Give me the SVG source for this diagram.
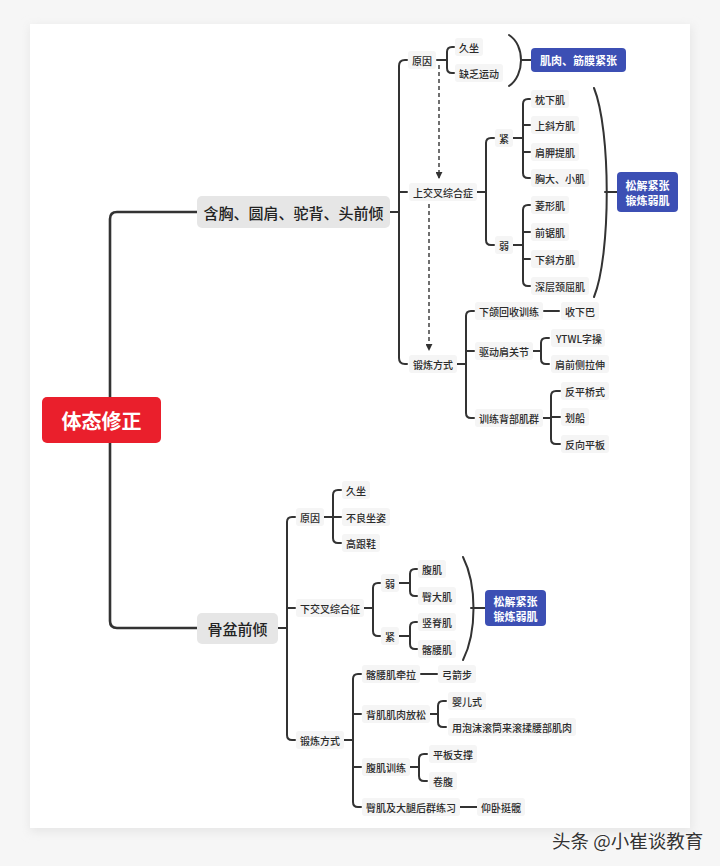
<svg xmlns="http://www.w3.org/2000/svg" width="720" height="866" viewBox="0 0 720 866">
<style>
text{font-family:"Noto Sans CJK SC","Noto Sans",sans-serif;dominant-baseline:central;}
.t{font-size:10px;fill:#2a2a2a;font-weight:500;}
.bg{fill:#f5f5f5;}
.c{fill:none;stroke:#333;stroke-width:2;stroke-linecap:round;stroke-linejoin:round;}
.trunk{fill:none;stroke:#333;stroke-width:2.6;}
.dash{fill:none;stroke:#333;stroke-width:1.4;stroke-dasharray:4 3;}
.blue{fill:#3c4fb4;}
.bt{font-size:11px;fill:#fff;font-weight:bold;text-anchor:middle;}
</style>
<defs>
<marker id="arr" viewBox="0 0 8 8" refX="7" refY="4" markerWidth="7" markerHeight="7" orient="auto" markerUnits="userSpaceOnUse">
<path d="M0,0 L8,4 L0,8 z" fill="#333"/>
</marker>
<filter id="sh" x="-5%" y="-5%" width="110%" height="110%">
<feGaussianBlur stdDeviation="5"/>
</filter>
</defs>
<rect width="720" height="866" fill="#f6f6f6"/>
<rect x="30" y="26" width="662" height="806" fill="#e6e6e6" filter="url(#sh)"/>
<rect x="30" y="24" width="660" height="804" fill="#fff"/>

<g id="connectors">
<path class="trunk" d="M197 212 H117 Q110 212 110 219 V621 Q110 628 117 628 H197"/>
<path class="c" d="M390 212 H399 M407 60 H405 Q399 60 399 66 V358 Q399 364 405 364 H407 M399 192 H407"/>
<path class="c" d="M437 60 H447 M454 47 H452 Q447 47 447 52 V68 Q447 73 452 73 H454"/>
<path class="c" d="M509 35 C525 45 525 75 509 86 M521 60 H531"/>
<path class="dash" d="M439 65 V178" marker-end="url(#arr)"/>
<path class="c" d="M471 192 H486 M494 138 H491 Q486 138 486 143 V240 Q486 245 491 245 H494"/>
<path class="c" d="M509 138 H523 M530 99 H528 Q523 99 523 104 V173 Q523 178 528 178 H530 M523 125 H530 M523 152 H530"/>
<path class="c" d="M509 245 H523 M530 205 H528 Q523 205 523 210 V281 Q523 286 528 286 H530 M523 232 H530 M523 259 H530"/>
<path class="c" d="M594 88 C611 130 611 255 594 297 M605 192 H617"/>
<path class="dash" d="M429 204 V350" marker-end="url(#arr)"/>
<path class="c" d="M453 364 H466 M474 311 H471 Q466 311 466 316 V413 Q466 418 471 418 H474 M466 351 H474"/>
<path class="c" d="M544 311 H559"/>
<path class="c" d="M529 351 H541 M549 338 H546 Q541 338 541 343 V359 Q541 364 546 364 H549"/>
<path class="c" d="M541 418 H551 M560 391 H556 Q551 391 551 396 V439 Q551 444 556 444 H560 M551 417 H560"/>
<path class="c" d="M278 628 H287 M295 517 H292 Q287 517 287 522 V735 Q287 740 292 740 H295 M287 608 H295"/>
<path class="c" d="M324 517 H333 M341 490 H338 Q333 490 333 495 V538 Q333 543 338 543 H341 M333 517 H341"/>
<path class="c" d="M362 608 H373 M380 583 H378 Q373 583 373 588 V631 Q373 636 378 636 H380"/>
<path class="c" d="M395 583 H410 M417 569 H415 Q410 569 410 574 V591 Q410 596 415 596 H417"/>
<path class="c" d="M395 636 H410 M417 622 H415 Q410 622 410 627 V644 Q410 649 415 649 H417"/>
<path class="c" d="M463 557 C477 585 477 632 463 660 M471 608 H485"/>
<path class="c" d="M340 740 H353 M361 674 H358 Q353 674 353 679 V802 Q353 807 358 807 H361 M353 714 H361 M353 767 H361"/>
<path class="c" d="M421 674 H437"/>
<path class="c" d="M428 714 H438 M446 701 H443 Q438 701 438 706 V722 Q438 727 443 727 H446"/>
<path class="c" d="M408 767 H419 M427 754 H424 Q419 754 419 759 V776 Q419 781 424 781 H427"/>
<path class="c" d="M460 807 H477"/>
</g>

<g id="root"><rect x="42" y="397" width="119" height="46" rx="5" fill="#ea1f2c"/><text x="101.5" y="420" font-size="20" font-weight="bold" fill="#fff" text-anchor="middle">体态修正</text></g>
<g id="n-upper"><rect x="197" y="196" width="193" height="32" rx="5" fill="#e6e6e6"/><text x="293.5" y="212" font-size="15" font-weight="500" fill="#222" text-anchor="middle">含胸、圆肩、驼背、头前倾</text></g>
<g id="n-pelvis"><rect x="197" y="613" width="81" height="31" rx="5" fill="#e6e6e6"/><text x="237.5" y="628.5" font-size="15" font-weight="500" fill="#222" text-anchor="middle">骨盆前倾</text></g>

<g id="u-cause"><rect class="bg" x="408" y="51" width="28" height="18" rx="3"/><text class="t" x="412" y="60">原因</text></g>
<g id="u-c1"><rect class="bg" x="455" y="38" width="28" height="18" rx="3"/><text class="t" x="459" y="47">久坐</text></g>
<g id="u-c2"><rect class="bg" x="455" y="64" width="48" height="18" rx="3"/><text class="t" x="459" y="73">缺乏运动</text></g>
<g id="u-blue1"><rect class="blue" x="531" y="48" width="95" height="24" rx="4"/><text class="bt" x="578.5" y="60">肌肉、筋膜紧张</text></g>
<g id="u-syn"><rect class="bg" x="409" y="183" width="68" height="18" rx="3"/><text class="t" x="413" y="192">上交叉综合症</text></g>
<g id="u-tight"><rect class="bg" x="495" y="129" width="18" height="18" rx="3"/><text class="t" x="499" y="138">紧</text></g>
<g id="u-t1"><rect class="bg" x="531" y="90" width="38" height="18" rx="3"/><text class="t" x="535" y="99">枕下肌</text></g>
<g id="u-t2"><rect class="bg" x="531" y="116" width="48" height="18" rx="3"/><text class="t" x="535" y="125">上斜方肌</text></g>
<g id="u-t3"><rect class="bg" x="531" y="143" width="48" height="18" rx="3"/><text class="t" x="535" y="152">肩胛提肌</text></g>
<g id="u-t4"><rect class="bg" x="531" y="169" width="58" height="18" rx="3"/><text class="t" x="535" y="178">胸大、小肌</text></g>
<g id="u-weak"><rect class="bg" x="495" y="236" width="18" height="18" rx="3"/><text class="t" x="499" y="245">弱</text></g>
<g id="u-w1"><rect class="bg" x="531" y="196" width="38" height="18" rx="3"/><text class="t" x="535" y="205">菱形肌</text></g>
<g id="u-w2"><rect class="bg" x="531" y="223" width="38" height="18" rx="3"/><text class="t" x="535" y="232">前锯肌</text></g>
<g id="u-w3"><rect class="bg" x="531" y="250" width="48" height="18" rx="3"/><text class="t" x="535" y="259">下斜方肌</text></g>
<g id="u-w4"><rect class="bg" x="531" y="277" width="58" height="18" rx="3"/><text class="t" x="535" y="286">深层颈屈肌</text></g>
<g id="u-blue2"><rect class="blue" x="617" y="172" width="61" height="40" rx="4"/><text class="bt" x="647.5" y="185">松解紧张</text><text class="bt" x="647.5" y="200">锻炼弱肌</text></g>
<g id="u-ex"><rect class="bg" x="409" y="355" width="48" height="18" rx="3"/><text class="t" x="413" y="364">锻炼方式</text></g>
<g id="u-e1"><rect class="bg" x="475" y="302" width="68" height="18" rx="3"/><text class="t" x="479" y="311">下颌回收训练</text></g>
<g id="u-e1a"><rect class="bg" x="561" y="302" width="38" height="18" rx="3"/><text class="t" x="565" y="311">收下巴</text></g>
<g id="u-e2"><rect class="bg" x="475" y="342" width="58" height="18" rx="3"/><text class="t" x="479" y="351">驱动肩关节</text></g>
<g id="u-e2a"><rect class="bg" x="551" y="329" width="54" height="18" rx="3"/><text class="t" x="556" y="338">YTWL字操</text></g>
<g id="u-e2b"><rect class="bg" x="551" y="355" width="58" height="18" rx="3"/><text class="t" x="555" y="364">肩前侧拉伸</text></g>
<g id="u-e3"><rect class="bg" x="475" y="409" width="68" height="18" rx="3"/><text class="t" x="479" y="418">训练背部肌群</text></g>
<g id="u-e3a"><rect class="bg" x="561" y="382" width="48" height="18" rx="3"/><text class="t" x="565" y="391">反平桥式</text></g>
<g id="u-e3b"><rect class="bg" x="561" y="408" width="28" height="18" rx="3"/><text class="t" x="565" y="417">划船</text></g>
<g id="u-e3c"><rect class="bg" x="561" y="435" width="48" height="18" rx="3"/><text class="t" x="565" y="444">反向平板</text></g>

<g id="b-cause"><rect class="bg" x="296" y="508" width="28" height="18" rx="3"/><text class="t" x="300" y="517">原因</text></g>
<g id="b-c1"><rect class="bg" x="342" y="481" width="28" height="18" rx="3"/><text class="t" x="346" y="490">久坐</text></g>
<g id="b-c2"><rect class="bg" x="342" y="508" width="48" height="18" rx="3"/><text class="t" x="346" y="517">不良坐姿</text></g>
<g id="b-c3"><rect class="bg" x="342" y="534" width="38" height="18" rx="3"/><text class="t" x="346" y="543">高跟鞋</text></g>
<g id="b-syn"><rect class="bg" x="296" y="599" width="68" height="18" rx="3"/><text class="t" x="300" y="608">下交叉综合征</text></g>
<g id="b-weak"><rect class="bg" x="381" y="574" width="18" height="18" rx="3"/><text class="t" x="385" y="583">弱</text></g>
<g id="b-w1"><rect class="bg" x="418" y="560" width="28" height="18" rx="3"/><text class="t" x="422" y="569">腹肌</text></g>
<g id="b-w2"><rect class="bg" x="418" y="587" width="38" height="18" rx="3"/><text class="t" x="422" y="596">臀大肌</text></g>
<g id="b-tight"><rect class="bg" x="381" y="627" width="18" height="18" rx="3"/><text class="t" x="385" y="636">紧</text></g>
<g id="b-t1"><rect class="bg" x="418" y="613" width="38" height="18" rx="3"/><text class="t" x="422" y="622">竖脊肌</text></g>
<g id="b-t2"><rect class="bg" x="418" y="640" width="38" height="18" rx="3"/><text class="t" x="422" y="649">髂腰肌</text></g>
<g id="b-blue"><rect class="blue" x="485" y="590" width="61" height="36" rx="4"/><text class="bt" x="515.5" y="601">松解紧张</text><text class="bt" x="515.5" y="616">锻炼弱肌</text></g>
<g id="b-ex"><rect class="bg" x="296" y="731" width="48" height="18" rx="3"/><text class="t" x="300" y="740">锻炼方式</text></g>
<g id="b-e1"><rect class="bg" x="362" y="665" width="58" height="18" rx="3"/><text class="t" x="366" y="674">髂腰肌牵拉</text></g>
<g id="b-e1a"><rect class="bg" x="438" y="665" width="38" height="18" rx="3"/><text class="t" x="442" y="674">弓箭步</text></g>
<g id="b-e2"><rect class="bg" x="362" y="705" width="68" height="18" rx="3"/><text class="t" x="366" y="714">背肌肌肉放松</text></g>
<g id="b-e2a"><rect class="bg" x="448" y="692" width="38" height="18" rx="3"/><text class="t" x="452" y="701">婴儿式</text></g>
<g id="b-e2b"><rect class="bg" x="448" y="718" width="128" height="18" rx="3"/><text class="t" x="452" y="727">用泡沫滚筒来滚揉腰部肌肉</text></g>
<g id="b-e3"><rect class="bg" x="362" y="758" width="48" height="18" rx="3"/><text class="t" x="366" y="767">腹肌训练</text></g>
<g id="b-e3a"><rect class="bg" x="429" y="745" width="48" height="18" rx="3"/><text class="t" x="433" y="754">平板支撑</text></g>
<g id="b-e3b"><rect class="bg" x="429" y="772" width="28" height="18" rx="3"/><text class="t" x="433" y="781">卷腹</text></g>
<g id="b-e4"><rect class="bg" x="362" y="798" width="98" height="18" rx="3"/><text class="t" x="366" y="807">臀肌及大腿后群练习</text></g>
<g id="b-e4a"><rect class="bg" x="477" y="798" width="48" height="18" rx="3"/><text class="t" x="481" y="807">仰卧挺髋</text></g>

<text x="552" y="840" font-size="18.5" fill="#333" stroke="#fff" stroke-width="0.6" paint-order="stroke">头条 @小崔谈教育</text>
</svg>
